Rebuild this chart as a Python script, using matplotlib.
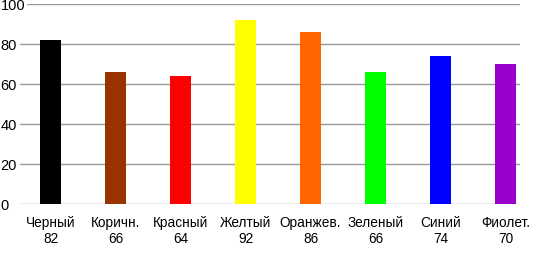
import matplotlib
matplotlib.use("Agg")
import matplotlib.pyplot as plt

categories = ["Черный", "Коричн.", "Красный", "Желтый", "Оранжев.", "Зеленый", "Синий", "Фиолет."]
values = [82, 66, 64, 92, 86, 66, 74, 70]
colors = ["#000000", "#993300", "#FF0000", "#FFFF00", "#FF6600", "#00FF00", "#0000FF", "#9900CC"]
yticks = [0, 20, 40, 60, 80, 100]

plt.rcParams['font.family'] = ['Liberation Sans', 'DejaVu Sans']

W, H = 540, 255
fig = plt.figure(figsize=(W / 100, H / 100), dpi=100)
ax = fig.add_axes([20 / W, 50 / H, 500 / W, 200 / H])

x = list(range(len(categories)))
ax.bar(x, values, width=21 / 65, color=colors, zorder=2)

ax.set_xlim(-30.5 / 65, 469.5 / 65)
ax.set_ylim(0, 100)
ax.set_yticks(yticks)
ax.set_yticklabels([str(v) for v in yticks])
ax.grid(axis='y', color='#999999', linewidth=1, zorder=0)
ax.set_axisbelow(True)
for s in ax.spines.values():
    s.set_visible(False)

ax.tick_params(axis='y', length=0, pad=14, labelsize=10.5)
for lab in ax.get_yticklabels():
    lab.set_horizontalalignment('left')
    lab.set_bbox(dict(facecolor='white', edgecolor='none', pad=1))
    lab.set_zorder(5)

ax.set_xticks(x)
ax.set_xticklabels([f"{c}\n{v}" for c, v in zip(categories, values)], fontsize=9.8, linespacing=1.2)
ax.tick_params(axis='x', length=0, pad=8)
for lab in ax.get_xticklabels():
    lab.set_clip_on(False)

fig.savefig("out.png", dpi=100)
